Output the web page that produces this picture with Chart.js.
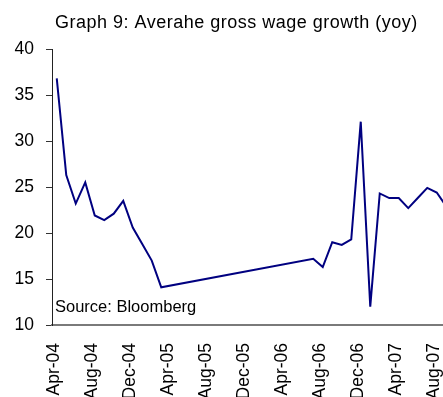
<!DOCTYPE html>
<html lang="en">
    <head>
        <meta charset="UTF-8">
        <title>Average gross wage growth</title>
        <style>
        html, body {
            margin: 0;
            padding: 0;
            overflow: hidden;
            background: #fff;
        }
        #wrap {
            width: 451px;
            height: 400px;
        }
        </style>
        <script src="https://cdn.jsdelivr.net/npm/chart.js"></script>
    </head>
    <body>
        <div id="wrap">
            <canvas id="wageChart" width="451" height="400"></canvas>
        </div>
    </body>

    <script>
        const TITLE = 'Graph 9: Averahe gross wage growth (yoy)';
        const SOURCE = 'Source: Bloomberg';
        const FONT = '"Liberation Sans", Arial, sans-serif';

        // monthly categories, Apr-04 .. Sep-07
        const months = [
            'Apr-04', 'May-04', 'Jun-04', 'Jul-04', 'Aug-04', 'Sep-04', 'Oct-04', 'Nov-04', 'Dec-04',
            'Jan-05', 'Feb-05', 'Mar-05', 'Apr-05', 'May-05', 'Jun-05', 'Jul-05', 'Aug-05', 'Sep-05',
            'Oct-05', 'Nov-05', 'Dec-05', 'Jan-06', 'Feb-06', 'Mar-06', 'Apr-06', 'May-06', 'Jun-06',
            'Jul-06', 'Aug-06', 'Sep-06', 'Oct-06', 'Nov-06', 'Dec-06', 'Jan-07', 'Feb-07', 'Mar-07',
            'Apr-07', 'May-07', 'Jun-07', 'Jul-07', 'Aug-07', 'Sep-07'
        ];

        // yoy growth, %; no data between Apr-05 and Jun-06
        const wageGrowth = [
            36.8, 26.3, 23.2, 25.5, 21.9, 21.4, 22.1, 23.5, 20.6,
            18.8, 17.0, 14.1, null, null, null, null, null, null,
            null, null, null, null, null, null, null, null, null,
            17.2, 16.3, 19.0, 18.7, 19.3, 32.1, 12.0, 24.3, 23.8,
            23.8, 22.7, 23.8, 24.9, 24.4, 22.9
        ];

        const yTicks = [10, 15, 20, 25, 30, 35, 40];

        // title above the plot and source note in its lower left corner
        const notes = {
            id: 'notes',
            afterDraw(chart) {
                const { ctx, chartArea } = chart;
                ctx.save();
                ctx.fillStyle = '#000';
                ctx.textAlign = 'left';
                ctx.textBaseline = 'alphabetic';
                ctx.font = '18px ' + FONT;
                ctx.letterSpacing = '0.5px';
                ctx.fillText(TITLE, chartArea.left + 3, 28);
                ctx.letterSpacing = '0px';
                ctx.font = '16.5px ' + FONT;
                ctx.fillText(SOURCE, chartArea.left + 3, chartArea.bottom - 13);
                ctx.restore();
            }
        };

        const ctx = document.getElementById('wageChart');
        new Chart(ctx, {
            type: 'line',
            data: {
                labels: months,
                datasets: [{
                    data: wageGrowth,
                    borderColor: '#000080',
                    borderWidth: 2,
                    pointRadius: 0,
                    tension: 0,
                    spanGaps: true,
                    fill: false
                }]
            },
            options: {
                responsive: false,
                animation: false,
                events: [],
                layout: {
                    padding: { top: 49, left: 12, right: 0, bottom: 0 }
                },
                plugins: {
                    legend: { display: false },
                    title: { display: false },
                    tooltip: { enabled: false }
                },
                scales: {
                    x: {
                        offset: true,
                        grid: { display: false },
                        border: { display: true, color: '#7a7a7a', width: 2 },
                        ticks: {
                            autoSkip: false,
                            maxRotation: 90,
                            minRotation: 90,
                            padding: 10,
                            labelOffset: -3,
                            color: '#000',
                            font: { family: FONT, size: 17.5 },
                            callback: (val, i) => (i % 4 === 0 ? months[i] : '')
                        },
                        afterFit: axis => {
                            // plot runs edge to edge; labels below may be cut
                            axis.paddingLeft = 0;
                            axis.paddingRight = 0;
                            axis.height = 75;
                        }
                    },
                    y: {
                        min: 10,
                        max: 40,
                        afterBuildTicks: axis => {
                            axis.ticks = yTicks.map(v => ({ value: v }));
                        },
                        grid: {
                            drawOnChartArea: false,
                            drawTicks: true,
                            tickLength: 6,
                            color: '#333'
                        },
                        border: { display: true, color: '#222', width: 1 },
                        ticks: {
                            padding: 12,
                            color: '#000',
                            font: { family: FONT, size: 17.5 }
                        },
                        afterFit: axis => {
                            axis.paddingTop = 0;
                            axis.paddingBottom = 0;
                            axis.width = 40;
                        }
                    }
                }
            },
            plugins: [notes]
        });
    </script>
</html>
